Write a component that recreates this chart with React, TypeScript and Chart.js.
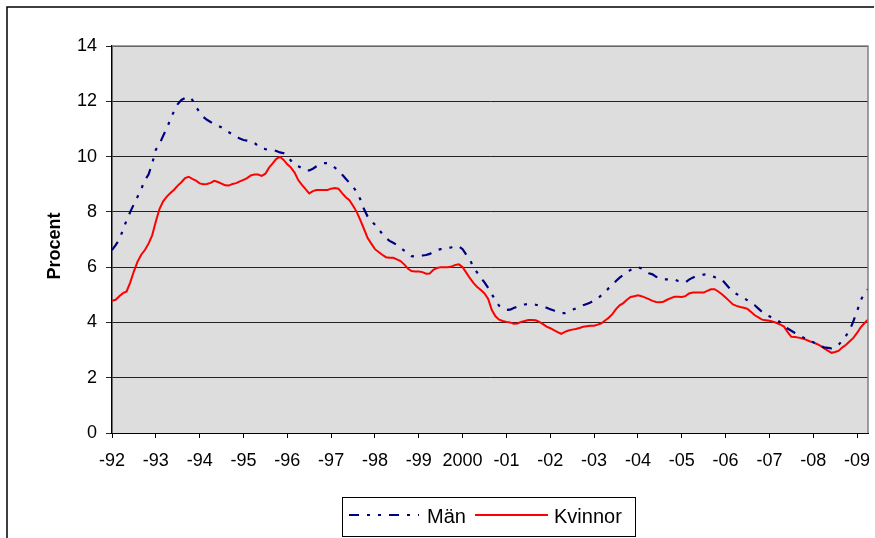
import React, { useEffect, useRef } from "react";
import { Chart, registerables } from "chart.js";

Chart.register(...registerables);

// Monthly values, Jan 1992 – Apr 2009
const yearLabels = ["-92", "-93", "-94", "-95", "-96", "-97", "-98", "-99", "2000", "-01", "-02", "-03", "-04", "-05", "-06", "-07", "-08", "-09"];

const man = [
  6.62, 6.8, 7.0, 7.35, 7.7, 8.0, 8.28, 8.55, 8.82, 9.15, 9.35, 9.75,
  10.25, 10.45, 10.75, 11.02, 11.35, 11.65, 11.9, 12.05, 12.12, 12.17, 12.05, 11.8,
  11.6, 11.43, 11.33, 11.25, 11.18, 11.12, 11.05, 10.95, 10.88, 10.8, 10.72, 10.65,
  10.6, 10.58, 10.56, 10.5, 10.38, 10.3, 10.27, 10.25, 10.24, 10.2, 10.15, 10.12,
  10.02, 9.85, 9.7, 9.65, 9.58, 9.49, 9.5, 9.56, 9.65, 9.72, 9.76, 9.76,
  9.7, 9.6, 9.5, 9.35, 9.2, 9.05, 8.9, 8.73, 8.45, 8.1, 7.83, 7.68,
  7.53, 7.38, 7.2, 7.05, 6.95, 6.88, 6.8, 6.7, 6.6, 6.5, 6.4, 6.38,
  6.4, 6.42, 6.44, 6.48, 6.55, 6.62, 6.65, 6.66, 6.68, 6.72, 6.77, 6.75,
  6.65, 6.45, 6.26, 6.0, 5.8, 5.6, 5.45, 5.25, 5.02, 4.8, 4.6, 4.5,
  4.45, 4.46, 4.52, 4.57, 4.62, 4.65, 4.67, 4.66, 4.64, 4.61, 4.58, 4.53,
  4.48, 4.43, 4.38, 4.34, 4.34, 4.4, 4.46, 4.5, 4.55, 4.62, 4.67, 4.72,
  4.8, 4.87, 4.98, 5.1, 5.24, 5.35, 5.5, 5.62, 5.72, 5.82, 5.9, 5.96,
  6.0, 5.95, 5.85, 5.78, 5.74, 5.65, 5.58, 5.56, 5.56, 5.56, 5.56, 5.5,
  5.46, 5.45, 5.55, 5.62, 5.68, 5.7, 5.73, 5.74, 5.7, 5.64, 5.58, 5.55,
  5.4, 5.25, 5.12, 5.03, 4.96, 4.88, 4.8, 4.7, 4.62, 4.5, 4.38, 4.28,
  4.22, 4.15, 4.1, 4.0, 3.9, 3.78, 3.7, 3.62, 3.55, 3.48, 3.4, 3.34,
  3.28, 3.22, 3.15, 3.1, 3.08, 3.06, 3.1, 3.2, 3.35, 3.52, 3.72, 4.05,
  4.4, 4.8, 5.05, 5.2,
];

const kvinnor = [
  4.78, 4.82, 4.95, 5.06, 5.12, 5.45, 5.85, 6.2, 6.45, 6.62, 6.85, 7.15,
  7.65, 8.1, 8.38, 8.55, 8.68, 8.8, 8.95, 9.07, 9.22, 9.27, 9.19, 9.13,
  9.03, 9.0, 9.01, 9.05, 9.12, 9.08, 9.02, 8.96, 8.95, 9.01, 9.04, 9.1,
  9.16, 9.22, 9.32, 9.35, 9.35, 9.3, 9.38, 9.6, 9.75, 9.92, 9.99, 9.88,
  9.72, 9.6, 9.42, 9.15, 8.98, 8.82, 8.67, 8.75, 8.79, 8.79, 8.79, 8.79,
  8.84, 8.86, 8.84, 8.68, 8.53, 8.42, 8.22, 8.0, 7.7, 7.38, 7.05, 6.85,
  6.65, 6.55, 6.45, 6.36, 6.34, 6.34, 6.28, 6.22, 6.1, 5.95, 5.86, 5.84,
  5.84, 5.82, 5.76, 5.77, 5.9, 5.97, 6.0, 6.0, 6.0, 6.02, 6.08, 6.1,
  6.0, 5.8, 5.6, 5.42, 5.28, 5.17, 5.05, 4.85, 4.45, 4.22, 4.1, 4.05,
  4.02, 4.0, 3.95, 3.96, 4.02, 4.05, 4.09, 4.09, 4.08, 4.02, 3.94, 3.85,
  3.79, 3.72, 3.65, 3.59, 3.66, 3.71, 3.74, 3.76, 3.8, 3.84, 3.86, 3.88,
  3.88, 3.92, 3.97, 4.07, 4.17, 4.3, 4.48, 4.62, 4.7, 4.82, 4.92, 4.95,
  4.98, 4.95, 4.9, 4.84, 4.78, 4.74, 4.73, 4.75, 4.82, 4.88, 4.93, 4.93,
  4.92, 4.95, 5.05, 5.08, 5.08, 5.08, 5.08, 5.14, 5.2, 5.2, 5.12, 5.02,
  4.9, 4.78, 4.65, 4.6, 4.56, 4.53, 4.49, 4.38, 4.26, 4.18, 4.1, 4.08,
  4.06, 4.03, 3.98, 3.92, 3.85, 3.65, 3.48, 3.47, 3.45, 3.42, 3.38, 3.32,
  3.28, 3.22, 3.15, 3.06, 2.98, 2.9, 2.93, 2.98, 3.1, 3.19, 3.32, 3.44,
  3.62, 3.82, 3.97, 4.1,
];

const seriesNames = ["Män", "Kvinnor"];
const yAxisTitle = "Procent";

const FONT = "'Liberation Sans', Arial, sans-serif";
const MAN_COLOR = "#000080";
const KV_COLOR = "#FF0000";
const MAN_DASH = [10, 8, 3, 8, 3, 8];

const decorPlugin = {
  id: "decor",
  beforeDraw(chart: any) {
    const { ctx, chartArea: a } = chart;
    ctx.save();
    ctx.fillStyle = "#FFFFFF";
    ctx.fillRect(0, 0, chart.width, chart.height);
    ctx.fillStyle = "#DDDDDD";
    ctx.fillRect(a.left, a.top, a.right - a.left, a.bottom - a.top);
    ctx.restore();
  },
  afterDraw(chart: any) {
    const { ctx, chartArea: a } = chart;
    ctx.save();
    ctx.strokeStyle = "#808080";
    ctx.lineWidth = 1.5;
    ctx.beginPath();
    ctx.moveTo(a.left, a.top);
    ctx.lineTo(a.right, a.top);
    ctx.lineTo(a.right, a.bottom);
    ctx.stroke();
    ctx.strokeStyle = "#000000";
    ctx.lineWidth = 1.5;
    ctx.beginPath();
    ctx.moveTo(7, chart.height);
    ctx.lineTo(7, 7);
    ctx.lineTo(874, 7);
    ctx.stroke();
    ctx.fillStyle = "#000000";
    ctx.font = `bold 18px ${FONT}`;
    ctx.textAlign = "center";
    ctx.textBaseline = "middle";
    ctx.translate(55, 246);
    ctx.rotate(-Math.PI / 2);
    ctx.fillText(yAxisTitle, 0, 0);
    ctx.restore();

    ctx.save();
    ctx.strokeStyle = "#000000";
    ctx.lineWidth = 1;
    ctx.strokeRect(342.5, 497.5, 293, 39);
    const ly = 515;
    ctx.lineWidth = 2;
    ctx.strokeStyle = MAN_COLOR;
    ctx.setLineDash(MAN_DASH);
    ctx.beginPath();
    ctx.moveTo(349, ly);
    ctx.lineTo(419, ly);
    ctx.stroke();
    ctx.setLineDash([]);
    ctx.strokeStyle = KV_COLOR;
    ctx.beginPath();
    ctx.moveTo(475, ly);
    ctx.lineTo(548, ly);
    ctx.stroke();
    ctx.fillStyle = "#000000";
    ctx.font = `20px ${FONT}`;
    ctx.textAlign = "left";
    ctx.textBaseline = "alphabetic";
    ctx.fillText(seriesNames[0], 427, 523);
    ctx.fillText(seriesNames[1], 554, 523);
    ctx.restore();
  },
};

export default function App() {
  const canvasRef = useRef<HTMLCanvasElement | null>(null);

  useEffect(() => {
    document.body.style.margin = "0";
    const canvas = canvasRef.current;
    if (!canvas) return;
    const chart = new Chart(canvas, {
      type: "line",
      data: {
        datasets: [
          {
            label: seriesNames[0],
            data: man.map((v, i) => ({ x: i, y: v })),
            borderColor: MAN_COLOR,
            borderWidth: 2.2,
            borderDash: MAN_DASH,
            pointRadius: 0,
            tension: 0,
            fill: false,
          },
          {
            label: seriesNames[1],
            data: kvinnor.map((v, i) => ({ x: i, y: v })),
            borderColor: KV_COLOR,
            borderWidth: 2,
            pointRadius: 0,
            tension: 0,
            fill: false,
          },
        ],
      },
      options: {
        responsive: false,
        animation: false,
        events: [],
        layout: { padding: { top: 46, right: 7, bottom: 0, left: 0 } },
        plugins: {
          legend: { display: false },
          tooltip: { enabled: false },
          title: { display: false },
        },
        scales: {
          x: {
            type: "linear",
            min: 0,
            max: man.length - 1,
            afterFit: (s: any) => {
              s.height = 105;
              s.paddingLeft = 0;
              s.paddingRight = 0;
            },
            border: { display: true, color: "#000000", width: 1 },
            grid: {
              display: true,
              drawOnChartArea: false,
              drawTicks: true,
              tickLength: 5,
              color: "#000000",
            },
            ticks: {
              stepSize: 12,
              includeBounds: false,
              autoSkip: false,
              maxRotation: 0,
              padding: 12,
              color: "#000000",
              font: { family: FONT, size: 18 },
              callback: (v: any) => {
                const idx = Math.round(Number(v) / 12);
                return Number(v) % 12 === 0 ? yearLabels[idx] : "";
              },
            },
          },
          y: {
            min: 0,
            max: 14,
            afterFit: (s: any) => {
              s.width = 112;
              s.paddingTop = 0;
              s.paddingBottom = 0;
            },
            border: { display: true, color: "#000000", width: 1.5 },
            grid: {
              display: true,
              drawOnChartArea: true,
              drawTicks: true,
              tickLength: 6,
              color: "#222222",
              lineWidth: 1,
            },
            ticks: {
              stepSize: 2,
              padding: 9,
              color: "#000000",
              font: { family: FONT, size: 18 },
            },
          },
        },
      },
      plugins: [decorPlugin],
    } as any);
    return () => chart.destroy();
  }, []);

  return (
    <div style={{ width: 875, height: 538 }}>
      <canvas ref={canvasRef} width={875} height={538} style={{ display: "block" }} />
    </div>
  );
}
